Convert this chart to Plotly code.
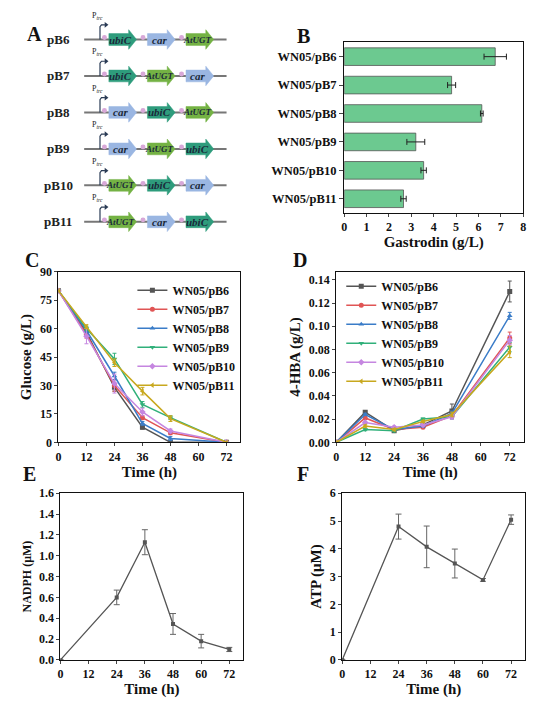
import plotly.graph_objects as go

FONT = "Liberation Serif"

# panel A: gene order of each construct
constructs = ["pB6", "pB7", "pB8", "pB9", "pB10", "pB11"]
gene_orders = [
    ["ubiC", "car", "AtUGT"],
    ["ubiC", "AtUGT", "car"],
    ["car", "ubiC", "AtUGT"],
    ["car", "AtUGT", "ubiC"],
    ["AtUGT", "ubiC", "car"],
    ["AtUGT", "car", "ubiC"],
]
gene_colors = {"ubiC": "#2e9c7c", "car": "#9ab6e2", "AtUGT": "#74b244"}

# panel B
strains = ["WN05/pB6", "WN05/pB7", "WN05/pB8", "WN05/pB9", "WN05/pB10", "WN05/pB11"]
gastrodin = [6.75, 4.8, 6.15, 3.2, 3.55, 2.65]
gastrodin_err = [0.5, 0.18, 0.06, 0.4, 0.12, 0.12]

# panels C, D
time_cd = [0, 12, 24, 36, 48, 72]
glucose = [
    [80, 58, 29, 8, 0, 0],
    [80, 57, 30, 13, 5, 0],
    [80, 59, 35, 10, 2, 0],
    [80, 60, 44, 20, 13, 0],
    [80, 56, 31, 16, 6, 0],
    [80, 61, 42, 27, 12.5, 0],
]
glucose_err = [
    [0, 1, 2, 1, 0, 0],
    [0, 2, 3, 1, 1, 0],
    [0, 1, 2, 1, 1, 0],
    [0, 1, 3, 1.5, 1, 0],
    [0, 4, 5, 2, 1, 0],
    [0, 1, 2, 2, 1.5, 0],
]
hba = [
    [0, 0.026, 0.010, 0.015, 0.027, 0.130],
    [0, 0.021, 0.011, 0.013, 0.023, 0.090],
    [0, 0.024, 0.011, 0.014, 0.025, 0.109],
    [0, 0.011, 0.010, 0.020, 0.022, 0.082],
    [0, 0.017, 0.013, 0.015, 0.022, 0.088],
    [0, 0.014, 0.011, 0.018, 0.024, 0.078],
]
hba_err = [
    [0, 0.001, 0.001, 0.001, 0.006, 0.009],
    [0, 0.001, 0.001, 0.001, 0.002, 0.005],
    [0, 0.001, 0.001, 0.001, 0.002, 0.003],
    [0, 0.001, 0.001, 0.001, 0.002, 0.004],
    [0, 0.001, 0.001, 0.001, 0.002, 0.004],
    [0, 0.001, 0.001, 0.001, 0.002, 0.005],
]
series_colors = ["#555555", "#e05555", "#3a7cc8", "#30b07a", "#c586e0", "#c8a81e"]
series_symbols = ["square", "circle", "triangle-up", "triangle-down", "diamond", "triangle-left"]

# panels E, F
time_ef = [0, 24, 36, 48, 60, 72]
nadph = [0, 0.6, 1.13, 0.345, 0.18, 0.1]
nadph_err = [0, 0.07, 0.12, 0.1, 0.065, 0.02]
atp = [0, 4.8, 4.07, 3.47, 2.88, 5.05]
atp_err = [0, 0.45, 0.75, 0.52, 0.05, 0.17]

W, H = 535, 702
def dx(a, b): return [a / W, b / W]
def dy(top, bot): return [1 - bot / H, 1 - top / H]

def bfont(size, color="#111"):
    return dict(family=FONT, size=size, color=color, weight="bold")

fig = go.Figure()

# ---- panel A (diagram, axis units ~ pixels, y downwards) ----
row_gap = 37.2
slot_x = [99, 138, 177]
gene_len = 28
shapes = []
for i, (name, order) in enumerate(zip(constructs, gene_orders)):
    y = 25 + row_gap * i
    fig.add_trace(go.Scatter(x=[74, 218], y=[y, y], mode="lines", line=dict(color="#777", width=2),
                             xaxis="x", yaxis="y", showlegend=False, hoverinfo="skip"))
    # promoter
    fig.add_trace(go.Scatter(x=[90, 90, 91.5, 95], y=[y, y - 13, y - 15, y - 15], mode="lines",
                             line=dict(color="#2a3b55", width=1.2), xaxis="x", yaxis="y",
                             showlegend=False, hoverinfo="skip"))
    fig.add_trace(go.Scatter(x=[96], y=[y - 15], mode="markers",
                             marker=dict(symbol="triangle-right", size=5, color="#2a3b55"),
                             xaxis="x", yaxis="y", showlegend=False, hoverinfo="skip"))
    fig.add_annotation(x=87, y=y - 17, xref="x", yref="y", showarrow=False, yanchor="bottom",
                       text="P<sub><i>trc</i></sub>", font=dict(family=FONT, size=8, color="#222"))
    fig.add_annotation(x=48, y=y, xref="x", yref="y", showarrow=False, text=name,
                       font=bfont(13, "#222"))
    for j, g in enumerate(order):
        x0 = slot_x[j]
        x1 = x0 + gene_len - 8
        x2 = x0 + gene_len
        path = (f"M {x0},{y-6} L {x1},{y-6} L {x1},{y-10} L {x2},{y} "
                f"L {x1},{y+10} L {x1},{y+6} L {x0},{y+6} Z")
        shapes.append(dict(type="path", path=path, xref="x", yref="y", fillcolor=gene_colors[g],
                           line=dict(color=gene_colors[g], width=0.5)))
        shapes.append(dict(type="circle", xref="x", yref="y", x0=x0 - 7, x1=x0 - 2, y0=y - 4.5, y1=y + 0.5,
                           fillcolor="#d8a8d8", line=dict(width=0)))
        fig.add_annotation(x=x0 + gene_len / 2 - 2, y=y, xref="x", yref="y", showarrow=False,
                           text=f"<b><i>{g}</i></b>", font=dict(family=FONT, size=9 if g == "AtUGT" else 11,
                                                                color="#1a2a3a"))

# ---- panel B ----
fig.add_trace(go.Bar(x=gastrodin, y=strains, orientation="h", xaxis="x2", yaxis="y2",
                     marker=dict(color="#6cc990", line=dict(color="#555", width=0.8)), width=0.62,
                     error_x=dict(type="data", array=gastrodin_err, color="#222", thickness=1, width=3),
                     showlegend=False))

# ---- panels C, D ----
for k, s in enumerate(strains):
    fig.add_trace(go.Scatter(x=time_cd, y=glucose[k], name=s, xaxis="x3", yaxis="y3",
                             mode="lines+markers", line=dict(color=series_colors[k], width=1.5),
                             marker=dict(symbol=series_symbols[k], size=5, color=series_colors[k]),
                             error_y=dict(type="data", array=glucose_err[k], color=series_colors[k],
                                          thickness=1, width=2)))
    fig.add_trace(go.Scatter(x=time_cd, y=hba[k], name=s, xaxis="x4", yaxis="y4",
                             mode="lines+markers", line=dict(color=series_colors[k], width=1.5),
                             marker=dict(symbol=series_symbols[k], size=5, color=series_colors[k]),
                             error_y=dict(type="data", array=hba_err[k], color=series_colors[k],
                                          thickness=1, width=2), legend="legend2"))

# ---- panels E, F ----
fig.add_trace(go.Scatter(x=time_ef, y=nadph, xaxis="x5", yaxis="y5", mode="lines+markers",
                         line=dict(color="#555", width=1.3), marker=dict(symbol="square", size=4, color="#555"),
                         showlegend=False,
                         error_y=dict(type="data", array=nadph_err, color="#666", thickness=1, width=3)))
fig.add_trace(go.Scatter(x=time_ef, y=atp, xaxis="x6", yaxis="y6", mode="lines+markers",
                         line=dict(color="#555", width=1.3), marker=dict(symbol="square", size=4, color="#555"),
                         showlegend=False,
                         error_y=dict(type="data", array=atp_err, color="#666", thickness=1, width=3)))

tickfont = bfont(12)
titlefont = bfont(15)
def ax(**kw):
    base = dict(showline=True, linecolor="#111", linewidth=1.2, mirror=True, ticks="outside",
                ticklen=3, tickfont=tickfont, showgrid=False, zeroline=False)
    base.update(kw)
    return base

tvals = [0, 12, 24, 36, 48, 60, 72]
legfont = bfont(12)
fig.update_layout(
    width=W, height=H, margin=dict(l=0, r=0, t=0, b=0), plot_bgcolor="white", paper_bgcolor="white",
    font=dict(family=FONT), shapes=shapes,
    xaxis=dict(domain=dx(0, 225), range=[0, 225], visible=False, autorange=False),
    yaxis=dict(domain=dy(0, 225), range=[225, 0], visible=False, autorange=False),
    xaxis2=ax(domain=dx(337, 518), anchor="y2", range=[0, 8], dtick=1,
              title=dict(text="Gastrodin (g/L)", font=titlefont, standoff=2)),
    yaxis2=ax(domain=dy(28, 202), anchor="x2", autorange="reversed", ticklen=4,
              tickfont=bfont(12.5)),
    xaxis3=ax(domain=dx(48, 232), anchor="y3", range=[0, 78], tickvals=tvals,
              title=dict(text="Time (h)", font=titlefont, standoff=0)),
    yaxis3=ax(domain=dy(262, 436), anchor="x3", range=[0, 90], dtick=15,
              title=dict(text="Glucose (g/L)", font=titlefont, standoff=4)),
    xaxis4=ax(domain=dx(329, 519), anchor="y4", range=[0, 78], tickvals=tvals,
              title=dict(text="Time (h)", font=titlefont, standoff=0)),
    yaxis4=ax(domain=dy(262, 436), anchor="x4", range=[0, 0.147], dtick=0.02, tickformat=".2f",
              title=dict(text="4-HBA (g/L)", font=titlefont, standoff=4)),
    xaxis5=ax(domain=dx(50, 235), anchor="y5", range=[0, 78], tickvals=tvals,
              title=dict(text="Time (h)", font=titlefont, standoff=0)),
    yaxis5=ax(domain=dy(488, 658), anchor="x5", range=[0, 1.6], dtick=0.2, tickformat=".1f",
              title=dict(text="NADPH (μM)", font=bfont(12), standoff=4)),
    xaxis6=ax(domain=dx(335, 520), anchor="y6", range=[0, 78], tickvals=tvals,
              title=dict(text="Time (h)", font=titlefont, standoff=0)),
    yaxis6=ax(domain=dy(488, 658), anchor="x6", range=[0, 6], dtick=1,
              title=dict(text="ATP (μM)", font=titlefont, standoff=4)),
    legend=dict(x=232 / W, y=1 - 266 / H, xanchor="right", yanchor="top",
                bgcolor="rgba(0,0,0,0)", font=legfont, tracegroupgap=0, itemwidth=30),
    legend2=dict(x=334 / W, y=1 - 262 / H, xanchor="left", yanchor="top",
                 bgcolor="rgba(0,0,0,0)", font=legfont, itemwidth=30),
)

for lbl, px, py in [("A", 14, 6), ("B", 296, 8), ("C", 12, 250), ("D", 292, 250),
                    ("E", 10, 482), ("F", 295, 482)]:
    fig.add_annotation(x=px / W, y=1 - py / H, xref="paper", yref="paper", showarrow=False,
                       text=lbl, font=bfont(20))

fig.write_html("out.html")
